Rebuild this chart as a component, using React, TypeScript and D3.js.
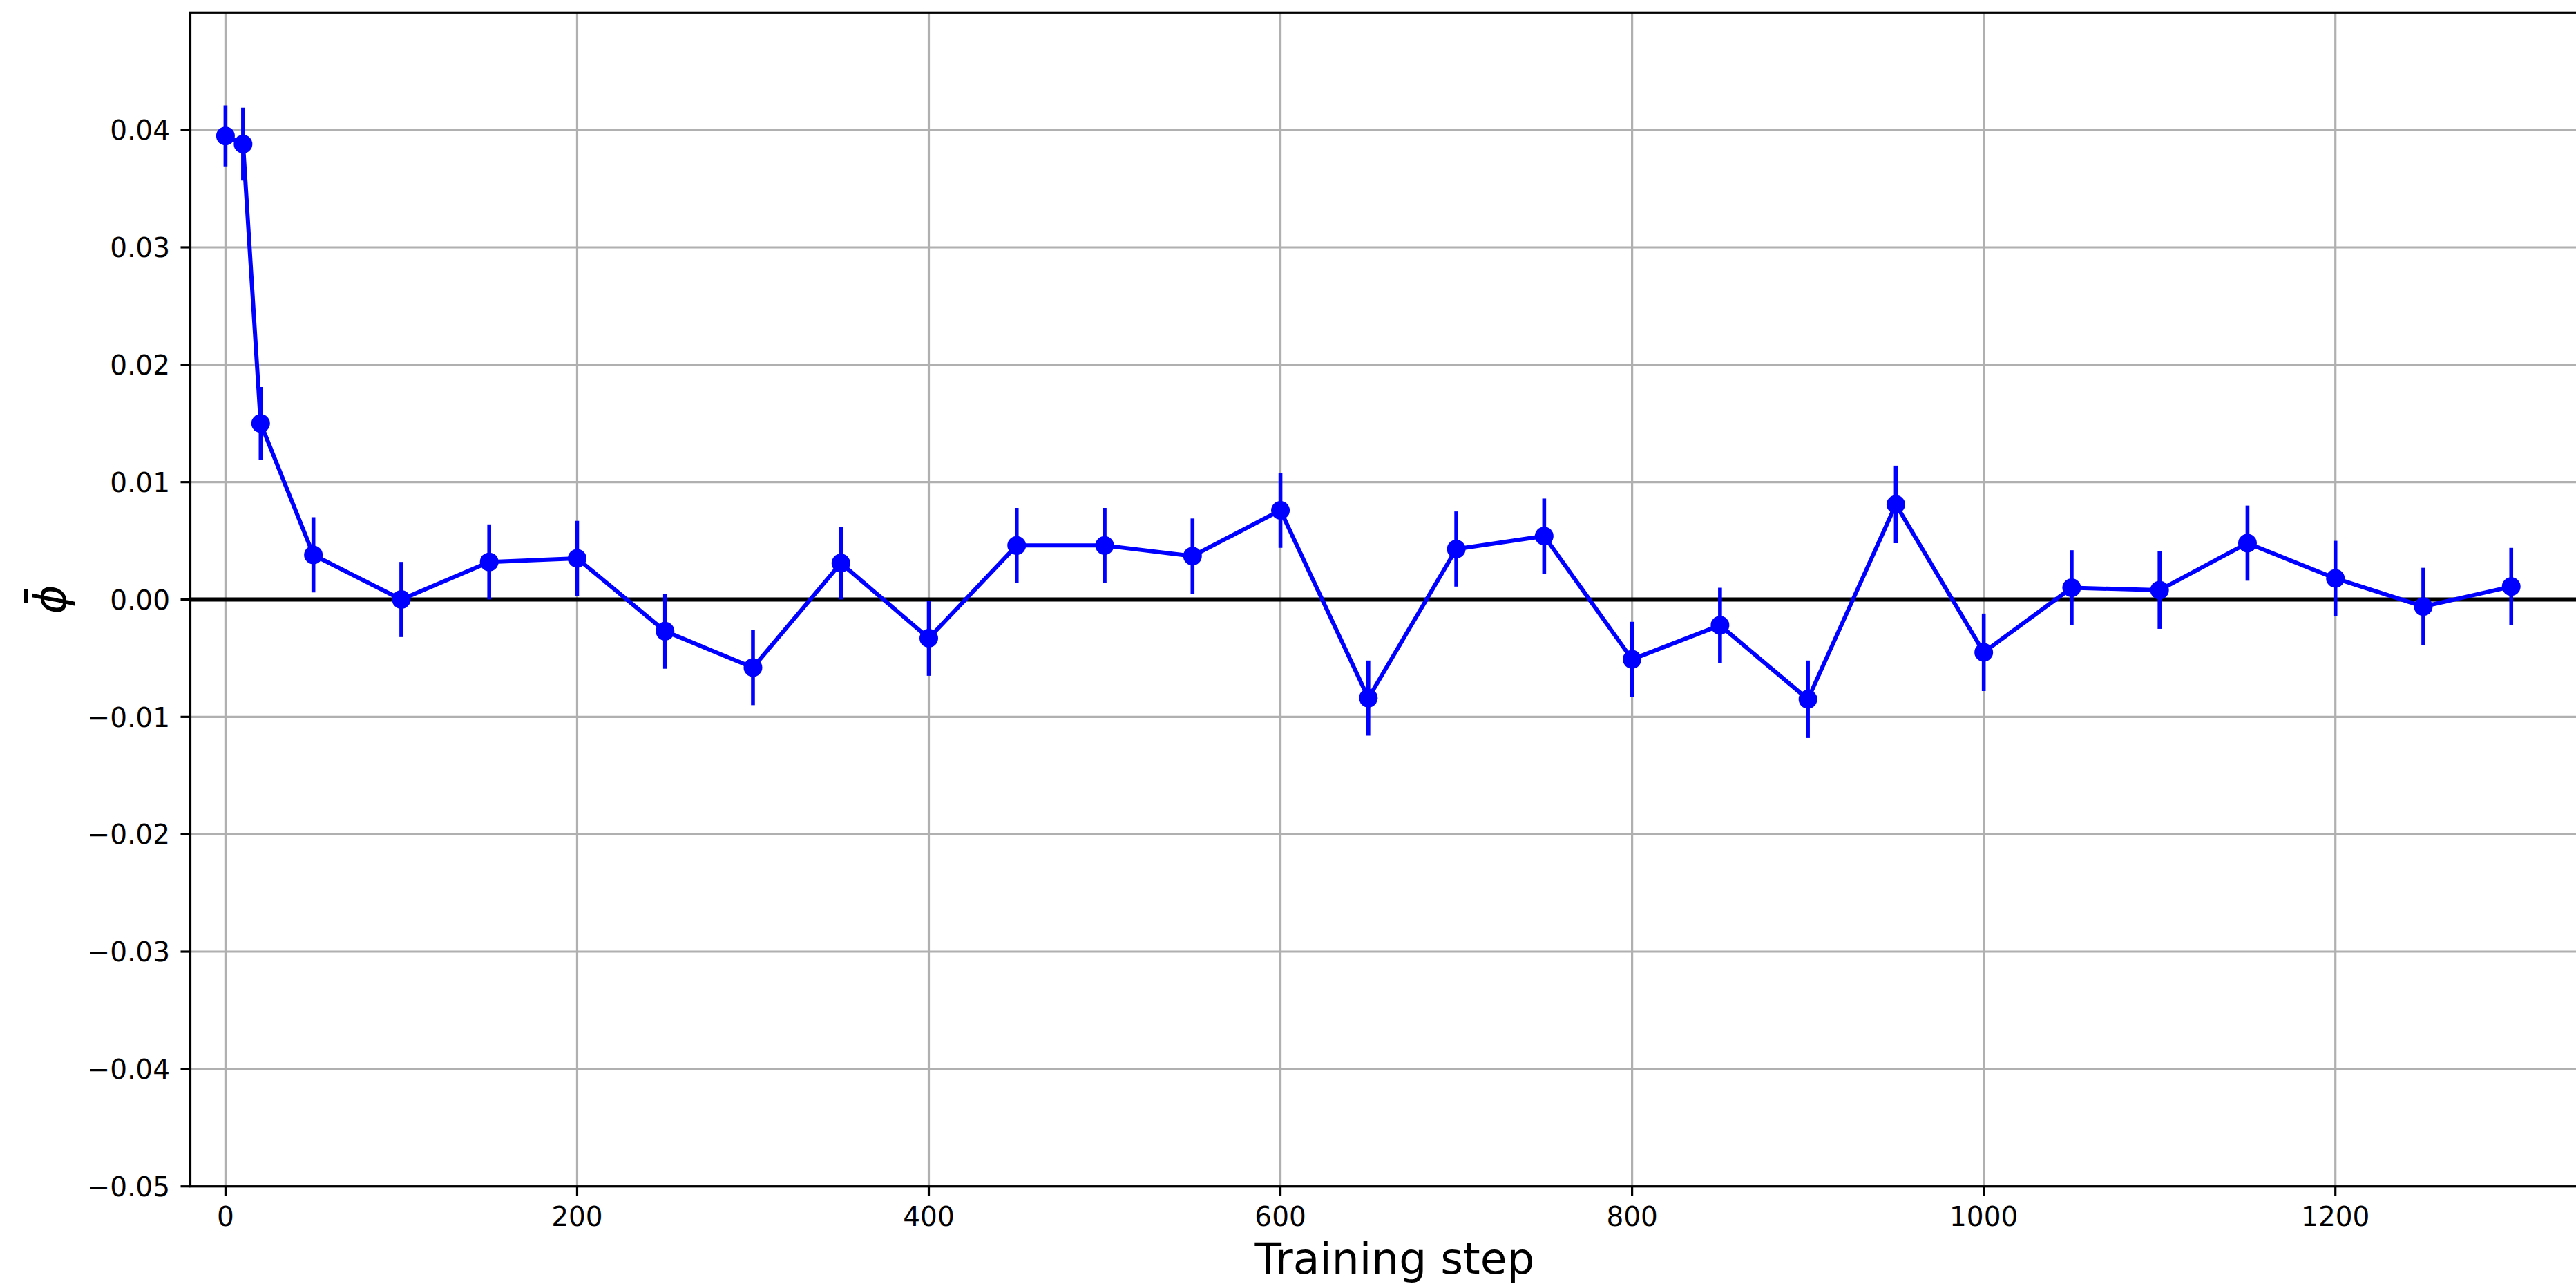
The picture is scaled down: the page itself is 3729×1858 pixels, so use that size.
import React from "react";
import * as d3 from "d3";

const steps = [0, 10, 20, 50, 100, 150, 200, 250, 300, 350, 400, 450, 500, 550, 600, 650, 700, 750, 800, 850, 900, 950, 1000, 1050, 1100, 1150, 1200, 1250, 1300];
const phiMean = [0.0395, 0.0388, 0.0150, 0.0038, 0.0000, 0.0032, 0.0035, -0.0027, -0.0058, 0.0031, -0.0033, 0.0046, 0.0046, 0.0037, 0.0076, -0.0084, 0.0043, 0.0054, -0.0051, -0.0022, -0.0085, 0.0081, -0.0045, 0.0010, 0.0008, 0.0048, 0.0018, -0.0006, 0.0011];
const phiErr = [0.0026, 0.0031, 0.0031, 0.0032, 0.0032, 0.0032, 0.0032, 0.0032, 0.0032, 0.0031, 0.0032, 0.0032, 0.0032, 0.0032, 0.0032, 0.0032, 0.0032, 0.0032, 0.0032, 0.0032, 0.0033, 0.0033, 0.0033, 0.0032, 0.0033, 0.0032, 0.0032, 0.0033, 0.0033];
const xTicks = [0, 200, 400, 600, 800, 1000, 1200];
const yTicks = [-0.05, -0.04, -0.03, -0.02, -0.01, 0.0, 0.01, 0.02, 0.03, 0.04];
const xLabel = "Training step";

const W = 3729;
const H = 1858;
const left = 275.5;
const right = 3762.5;
const top = 18.3;
const bottom = 1716.7;
const FONT = "DejaVu Sans";

export default function App() {
  const x = d3.scaleLinear().domain([-20, 1350]).range([left, right]);
  const y = d3.scaleLinear().domain([-0.05, 0.05]).range([bottom, top]);
  const pts = steps.map((s, i) => ({ s, v: phiMean[i], e: phiErr[i] }));
  const line = d3.line<any>().x((d) => x(d.s)).y((d) => y(d.v));
  const fmtY = (v: number) => d3.format(".2f")(v).replace("-", "\u2212");
  const blue = "#0000ff";
  const gridC = "#b0b0b0";

  return (
    <svg width={W} height={H} style={{ position: "absolute", left: 0, top: 0, background: "#fff" }} fontFamily={FONT}>
      <style>{`body{margin:0;}`}</style>
      <rect x={0} y={0} width={W} height={H} fill="#fff" />
      <defs>
        <clipPath id="plotClip">
          <rect x={left} y={top} width={right - left} height={bottom - top} />
        </clipPath>
      </defs>
      {/* grid */}
      <g stroke={gridC} strokeWidth={3.2}>
        {xTicks.map((t) => (
          <line key={"gx" + t} x1={x(t)} x2={x(t)} y1={top} y2={bottom} />
        ))}
        {yTicks.map((t) => (
          <line key={"gy" + t} x1={left} x2={right} y1={y(t)} y2={y(t)} />
        ))}
      </g>
      <g clipPath="url(#plotClip)">
        {/* zero line */}
        <line x1={left} x2={right} y1={y(0)} y2={y(0)} stroke="#000" strokeWidth={6} />
        {/* error bars */}
        <g stroke={blue} strokeWidth={5.6}>
          {pts.map((d, i) => (
            <line key={"e" + i} x1={x(d.s)} x2={x(d.s)} y1={y(d.v - d.e)} y2={y(d.v + d.e)} />
          ))}
        </g>
        <path d={line(pts) || ""} fill="none" stroke={blue} strokeWidth={6} strokeLinejoin="round" />
        {pts.map((d, i) => (
          <circle key={"m" + i} cx={x(d.s)} cy={y(d.v)} r={13.5} fill={blue} />
        ))}
      </g>
      {/* spines */}
      <rect x={left} y={top} width={right - left} height={bottom - top} fill="none" stroke="#000" strokeWidth={3.2} />
      {/* x ticks */}
      <g>
        {xTicks.map((t) => (
          <g key={"xt" + t}>
            <line x1={x(t)} x2={x(t)} y1={bottom} y2={bottom + 14} stroke="#000" strokeWidth={3.2} />
            <text x={x(t)} y={1774} fontSize={39} textAnchor="middle" fill="#000">
              {String(t)}
            </text>
          </g>
        ))}
      </g>
      {/* y ticks */}
      <g>
        {yTicks.map((t) => (
          <g key={"yt" + t}>
            <line x1={left - 14} x2={left} y1={y(t)} y2={y(t)} stroke="#000" strokeWidth={3.2} />
            <text x={246} y={y(t) + 14.2} fontSize={39} textAnchor="end" fill="#000">
              {fmtY(t)}
            </text>
          </g>
        ))}
      </g>
      {/* x label */}
      <text x={(left + right) / 2} y={1842.5} fontSize={63} textAnchor="middle" fill="#000">
        {xLabel}
      </text>
      {/* y label: phi bar */}
      <g transform={`translate(95, ${(top + bottom) / 2}) rotate(-90)`}>
        <text x={0} y={0} fontSize={64} fontStyle="italic" textAnchor="middle" fill="#000">
          {"\u03D5"}
        </text>
        <line x1={-4.5} x2={14.5} y1={-57.5} y2={-57.5} stroke="#000" strokeWidth={5} />
      </g>
    </svg>
  );
}
